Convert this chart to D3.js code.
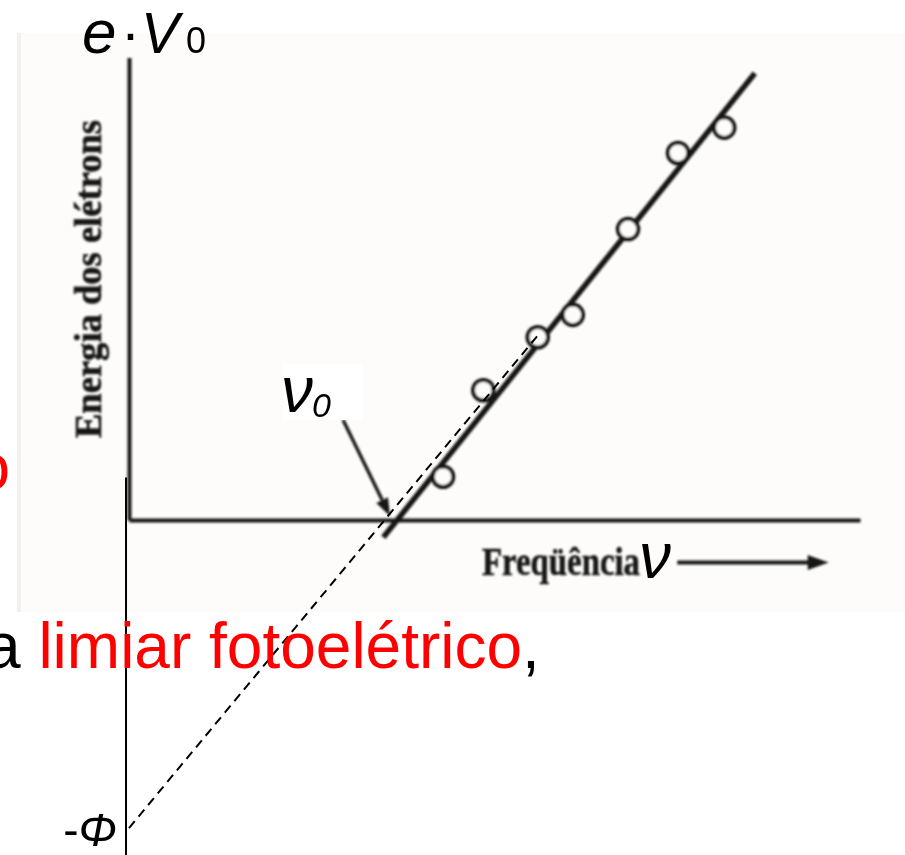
<!DOCTYPE html>
<html>
<head>
<meta charset="utf-8">
<script src="https://cdn.jsdelivr.net/npm/d3@7"></script>
<style>
  html, body { margin: 0; padding: 0; background: #ffffff; overflow: hidden; }
  svg { display: block; }
</style>
</head>
<body>
<script>
// Photoelectric effect: kinetic energy of the emitted electrons vs. light frequency
// frequency in 10^14 Hz, energy in eV
const frequency = [4.21, 4.75, 5.48, 5.95, 6.69, 7.36, 7.98];
const energy    = [0.58, 1.74, 2.45, 2.75, 3.90, 4.92, 5.26];

// straight line fitted through the measurements
const fitNu = [3.41, 8.39];
const fitE  = [-0.23, 5.99];

// fit extended back to zero frequency, where it meets -Φ
const extNu = [0.0, 5.51];
const extE  = [-4.13, 2.51];

// energy axis continued below zero for the intercept
const workAxisNu = -0.04;
const workAxisE  = [0.57, -4.8];

// pointer to the threshold frequency ν0
const pointerNu = [2.87, 3.50];
const pointerE  = [1.34, 0.05];

// arrow next to the frequency label
const freqArrowNu = [7.35, 9.38];
const freqArrowE  = -0.57;

const axisTitles = ["Energia dos elétrons", "Freqüência"];

const W = 905, H = 855;
const svg = d3.select("body").append("svg").attr("width", W).attr("height", H);

const x = d3.scaleLinear().domain([0, 9.8]).range([129, 860]);
const y = d3.scaleLinear().domain([0, 6.2]).range([520, 57.5]);

const ink = "#181818";
const paper = "#fdfcfa";

const defs = svg.append("defs");
defs.append("filter").attr("id", "soft")
  .attr("x", "-5%").attr("y", "-5%").attr("width", "110%").attr("height", "110%")
  .append("feGaussianBlur").attr("stdDeviation", 0.8);

// printed page area
svg.append("rect").attr("x", 17).attr("y", 33).attr("width", W - 17).attr("height", 579)
  .attr("fill", paper);
svg.append("rect").attr("x", 17).attr("y", 33).attr("width", 4).attr("height", 579)
  .attr("fill", "#f1f1ef");

const page = svg.append("g").attr("filter", "url(#soft)");

// axes without ticks
const xAxis = page.append("g").attr("transform", `translate(0,${y(0)})`)
  .call(d3.axisBottom(x).tickValues([]).tickSizeOuter(0));
const yAxis = page.append("g").attr("transform", `translate(${x(0)},0)`)
  .call(d3.axisLeft(y).tickValues([]).tickSizeOuter(0));
[xAxis, yAxis].forEach(g => g.select(".domain").attr("stroke", ink).attr("stroke-width", 4));

// fitted line
const line = d3.line().x(d => x(d[0])).y(d => y(d[1]));
page.append("path").datum(d3.zip(fitNu, fitE)).attr("d", line)
  .attr("fill", "none").attr("stroke", ink).attr("stroke-width", 5.5).attr("stroke-linecap", "butt");

// measured points
page.selectAll("circle.pt").data(d3.zip(frequency, energy)).join("circle")
  .attr("class", "pt")
  .attr("cx", d => x(d[0])).attr("cy", d => y(d[1])).attr("r", 10.3)
  .attr("fill", paper).attr("stroke", ink).attr("stroke-width", 4);

// pointer arrow to ν0
{
  const p0 = [x(pointerNu[0]), y(pointerE[0])];
  const p1 = [x(pointerNu[1]), y(pointerE[1])];
  const ang = Math.atan2(p1[1] - p0[1], p1[0] - p0[0]);
  const L = 18, hw = 6.5;
  const base = [p1[0] - L * Math.cos(ang), p1[1] - L * Math.sin(ang)];
  page.append("line").attr("x1", p0[0]).attr("y1", p0[1]).attr("x2", base[0]).attr("y2", base[1])
    .attr("stroke", ink).attr("stroke-width", 3.4);
  page.append("path").attr("d", d3.line()([
    p1,
    [base[0] + hw * Math.sin(ang), base[1] - hw * Math.cos(ang)],
    [base[0] - hw * Math.sin(ang), base[1] + hw * Math.cos(ang)]
  ]) + "Z").attr("fill", ink);
}

// axis titles in the printed serif face
page.append("text")
  .attr("transform", `translate(101,279) rotate(-90)`)
  .attr("text-anchor", "middle")
  .attr("font-family", "'Liberation Serif', 'DejaVu Serif', serif")
  .attr("font-weight", "bold").attr("font-size", 37)
  .attr("stroke", ink).attr("stroke-width", 0.6)
  .attr("textLength", 318).attr("lengthAdjust", "spacingAndGlyphs")
  .attr("fill", ink).text(axisTitles[0]);

page.append("text")
  .attr("x", 482).attr("y", 575)
  .attr("font-family", "'Liberation Serif', 'DejaVu Serif', serif")
  .attr("font-weight", "bold").attr("font-size", 40)
  .attr("stroke", ink).attr("stroke-width", 0.6)
  .attr("textLength", 158).attr("lengthAdjust", "spacingAndGlyphs")
  .attr("fill", ink).text(axisTitles[1]);

// arrow after the frequency label
{
  const ya = y(freqArrowE);
  const x0 = x(freqArrowNu[0]), x1 = x(freqArrowNu[1]);
  page.append("line").attr("x1", x0).attr("y1", ya).attr("x2", x1 - 18).attr("y2", ya)
    .attr("stroke", ink).attr("stroke-width", 4);
  page.append("path").attr("d", d3.line()([[x1, ya], [x1 - 21, ya - 7.5], [x1 - 21, ya + 7.5]]) + "Z")
    .attr("fill", ink);
}

// ---- symbols written over the printed graph ----
const sans = "'Liberation Sans', Arial, sans-serif";

// label patch and ν0
svg.append("rect").attr("x", 283).attr("y", 364).attr("width", 80).attr("height", 56).attr("fill", "#ffffff");
const nu0 = svg.append("text").attr("font-family", sans).attr("fill", "#000");
nu0.append("tspan").attr("x", 281).attr("y", 412).attr("font-size", 64).attr("font-style", "italic").text("ν");
nu0.append("tspan").attr("x", 312).attr("y", 417).attr("font-size", 34).attr("font-style", "italic").text("0");

// ν after the frequency label
svg.append("text").attr("x", 639).attr("y", 578).attr("font-family", sans)
  .attr("font-size", 64).attr("font-style", "italic").attr("fill", "#000").text("ν");

// e·V0 at the top of the energy axis
const ev = svg.append("text").attr("font-family", sans).attr("fill", "#000");
ev.append("tspan").attr("x", 82).attr("y", 53).attr("font-size", 62).attr("font-style", "italic").text("e");
ev.append("tspan").attr("x", 121).attr("y", 53).attr("font-size", 57).text("·");
ev.append("tspan").attr("x", 141).attr("y", 53).attr("font-size", 57).attr("font-style", "italic").text("V");
ev.append("tspan").attr("x", 186).attr("y", 53).attr("font-size", 36).text("0");

// energy axis continued downward
svg.append("line")
  .attr("x1", x(workAxisNu)).attr("y1", y(workAxisE[0]))
  .attr("x2", x(workAxisNu)).attr("y2", y(workAxisE[1]))
  .attr("stroke", "#000").attr("stroke-width", 2);

// dashed extrapolation to the intercept
svg.append("path").datum(d3.zip(extNu, extE)).attr("d", line)
  .attr("fill", "none").attr("stroke", "#000").attr("stroke-width", 2)
  .attr("stroke-dasharray", "9,6");

// intercept label -Φ
const phi = svg.append("text").attr("x", 117).attr("y", 846).attr("text-anchor", "end")
  .attr("font-family", sans).attr("font-size", 46).attr("fill", "#000");
phi.append("tspan").text("-");
phi.append("tspan").attr("font-style", "italic").text("Φ");

// caption text
const cap = svg.append("text").attr("x", -15).attr("y", 668)
  .attr("font-family", sans).attr("font-size", 64).attr("fill", "#000");
cap.append("tspan").text("a ");
cap.append("tspan").attr("fill", "#ff0000").text("limiar fotoelétrico");
cap.append("tspan").text(",");

svg.append("text").attr("x", 10).attr("y", 489).attr("text-anchor", "end")
  .attr("font-family", sans).attr("font-size", 64).attr("fill", "#ff0000").text("o");
</script>
</body>
</html>
